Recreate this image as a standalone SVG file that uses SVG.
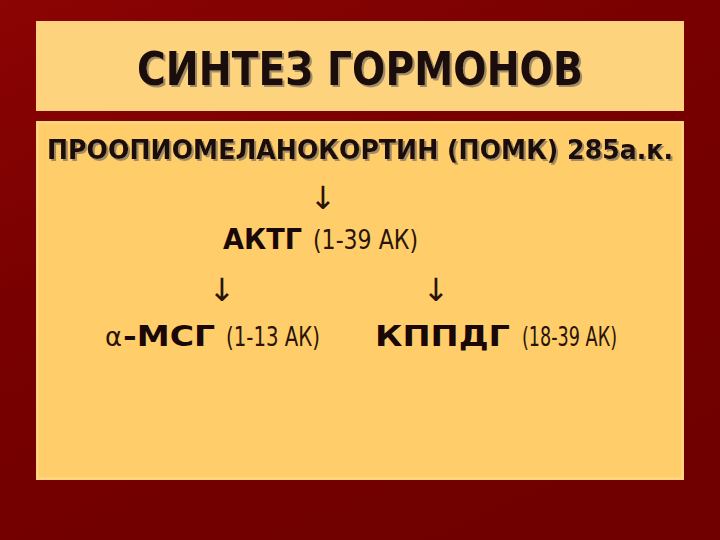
<svg xmlns="http://www.w3.org/2000/svg" width="720" height="540" viewBox="0 0 720 540">
<defs>
<linearGradient id="bg" x1="0" y1="0" x2="0.6" y2="1">
<stop offset="0" stop-color="#8C0404"/>
<stop offset="0.45" stop-color="#780000"/>
<stop offset="1" stop-color="#700000"/>
</linearGradient>
<filter id="sh" x="-5%" y="-20%" width="110%" height="150%">
<feOffset in="SourceAlpha" dx="2" dy="2" result="o"/>
<feFlood flood-color="#8a7a60" flood-opacity="0.8"/>
<feComposite in2="o" operator="in" result="s"/>
<feMerge><feMergeNode in="s"/><feMergeNode in="SourceGraphic"/></feMerge>
</filter>
</defs>
<style>
.t{font-family:"DejaVu Sans","Liberation Sans",sans-serif;fill:#1a0808}
.b{font-weight:bold}
.n{font-weight:normal;fill:#2a1408}
.ar{font-family:"DejaVu Sans",sans-serif;fill:#2a1408;font-size:32px;text-anchor:middle}
</style>
<rect width="720" height="540" fill="url(#bg)"/>
<g id="title">
<rect x="36" y="21" width="648" height="90" fill="#FDD37E"/>
<text class="t b" x="137" y="85" font-family="Liberation Sans" font-size="46" textLength="446" lengthAdjust="spacingAndGlyphs" filter="url(#sh)">СИНТЕЗ ГОРМОНОВ</text>
</g>
<g id="content">
<rect x="36" y="121" width="648" height="359" fill="#FFCE6A"/>
<rect x="37.5" y="122.5" width="645" height="356" fill="none" stroke="#FFD98A" stroke-width="1.5"/>
</g>
<g id="pomc">
<text class="t b" x="47" y="159" font-size="27" textLength="626" lengthAdjust="spacingAndGlyphs" filter="url(#sh)">ПРООПИОМЕЛАНОКОРТИН (ПОМК) 285а.к.</text>
</g>
<g id="acth">
<text class="t b" x="223" y="249" font-size="28" textLength="79" lengthAdjust="spacingAndGlyphs">АКТГ</text>
<text class="t n" x="313" y="249" font-size="26" textLength="105" lengthAdjust="spacingAndGlyphs">(1-39 АК)</text>
</g>
<g id="msh">
<text class="t n" x="105" y="346" font-size="27" textLength="17" lengthAdjust="spacingAndGlyphs">α</text>
<text class="t b" x="123" y="346" font-size="28" textLength="92" lengthAdjust="spacingAndGlyphs">-МСГ</text>
<text class="t n" x="226" y="346" font-size="26" textLength="94" lengthAdjust="spacingAndGlyphs">(1-13 АК)</text>
</g>
<g id="clip">
<text class="t b" x="375" y="346" font-size="28" textLength="135" lengthAdjust="spacingAndGlyphs">КППДГ</text>
<text class="t n" x="522" y="346" font-size="26" textLength="95" lengthAdjust="spacingAndGlyphs">(18-39 АК)</text>
</g>
<g id="connectors">
<text class="ar" x="323" y="209">↓</text>
<text class="ar" x="222" y="301">↓</text>
<text class="ar" x="436" y="301">↓</text>
</g>
</svg>
